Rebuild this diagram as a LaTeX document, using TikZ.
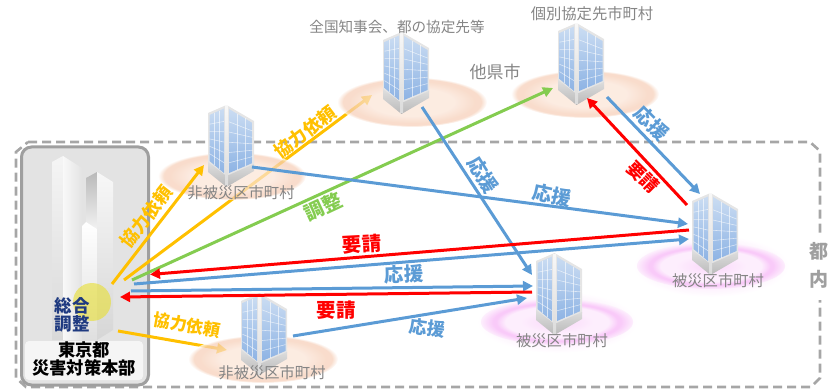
\documentclass[tikz,border=0pt]{standalone}
\usepackage{fontspec}
\setmainfont{Noto Sans CJK JP}
\usetikzlibrary{arrows.meta,calc}
\definecolor{cOrange}{HTML}{FFC000}
\definecolor{cBlue}{HTML}{5B9BD5}
\definecolor{cGreen}{HTML}{84CC50}
\definecolor{cRed}{HTML}{FF0000}
\definecolor{cGray}{HTML}{858585}
\definecolor{cNavy}{HTML}{1F3A80}
\definecolor{pa}{HTML}{FBE4D6}
\definecolor{pb}{HTML}{F6CFB8}
\definecolor{ga}{HTML}{FAD6FA}
\definecolor{gb}{HTML}{F9CAF9}
\definecolor{gc}{HTML}{FDEEFD}
\definecolor{HTMLa}{HTML}{CADCF2}
\definecolor{HTMLb}{HTML}{8DB3E4}
\pgfdeclareradialshading{peachell}{\pgfpoint{0bp}{0bp}}{color(0bp)=(pa);color(14bp)=(pa);color(21bp)=(pb);color(23bp)=(pb);color(25bp)=(white);color(50bp)=(white)}
\pgfdeclareradialshading{pinkell}{\pgfpoint{0bp}{0bp}}{color(0bp)=(ga);color(12bp)=(gc);color(17bp)=(gc);color(20bp)=(gb);color(21bp)=(gb);color(25bp)=(gc);color(50bp)=(gc)}
\pgfdeclareradialshading{pinkglow}{\pgfpoint{0bp}{0bp}}{color(0bp)=(gc);color(16bp)=(gc);color(25bp)=(white);color(50bp)=(white)}
\tikzset{
  x=1pt,y=-1pt,
  conn/.style={line width=3pt,-{Triangle[length=10pt,width=10pt]}},
  orangeconn/.style={conn,draw=cOrange},
  blueconn/.style={conn,draw=cBlue},
  greenconn/.style={conn,draw=cGreen},
  redconn/.style={conn,draw=cRed},
  lab/.style={font=\bfseries\fontsize{18}{18}\selectfont,inner sep=0pt},
  labbig/.style={font=\bfseries\fontsize{19.5}{20}\selectfont,inner sep=0pt},
  graytext/.style={font=\fontsize{15.3}{16}\selectfont,text=cGray,inner sep=0pt},
  bldgbox/.style={inner sep=0pt,minimum width=46pt,minimum height=82pt},
  grid/.style={white,line width=.6pt,opacity=.6},
}
\newcommand{\bldg}[3]{%
  \node[bldgbox] (#1) at (#2+23,#3+41) {};
  \begin{scope}[shift={(#2,#3)}]
    \fill[gray!20] (0,8)--(18.5,0)--(46,16)--(46,60)--(18.5,74)--(0,60)--cycle;
    \shade[top color=gray!25,bottom color=gray!55] (0,57)--(18.5,71)--(46,59)--(46,66)--(18.5,82)--(0,67)--cycle;
    \shade[top color=gray!6,bottom color=gray!28] (17,1)--(20,1)--(20,81)--(17,81)--cycle;
    \shade[top color=HTMLa,bottom color=HTMLb] (1.5,10)--(16,3.5)--(16,68)--(1.5,56)--cycle;
    \shade[top color=HTMLa,bottom color=HTMLb] (21,4)--(44.5,18)--(44.5,58)--(21,68)--cycle;
    \foreach \t in {.2,.36,.52,.68,.84}{
      \draw[grid] (1.5,10+46*\t)--(16,3.5+64.5*\t);
      \draw[grid] (21,4+64*\t)--(44.5,18+40*\t);
    }
    \foreach \x/\a/\b in {6.3/7.8/60,11.2/5.6/64}{\draw[grid] (\x,\a)--(\x,\b);}
    \foreach \x/\a/\b in {29/8.8/64.6,37/13.5/61.2}{\draw[grid] (\x,\a)--(\x,\b);}
  \end{scope}}
\begin{document}
\begin{tikzpicture}
\useasboundingbox (0,0) rectangle (832,390);
% outer dashed frame
\draw[draw=gray!70,line width=2.6pt,dash pattern=on 9pt off 5pt]
  (28,142)--(810,142)--(820,151)--(820,378)--(811,387)--(26,387)--(16,378)--(16,152)--cycle;
\fill[white] (805,233) rectangle (832,300);
\node[font=\bfseries\fontsize{19}{19}\selectfont,text=gray!75,inner sep=0pt] (tonai1) at (819,251) {都};
\node[font=\bfseries\fontsize{19}{19}\selectfont,text=gray!75,inner sep=0pt] (tonai2) at (819,279) {内};
% HQ panel
\node[draw=gray!75,line width=3pt,rounded corners=10pt,fill=gray!22,minimum width=127pt,minimum height=238pt,inner sep=0pt] (hq) at (85,266) {};
\shade[top color=gray!8,bottom color=gray!30] (52,162)--(63,156)--(63,340)--(52,340)--cycle;
\shade[left color=gray!5,right color=gray!22] (63,156)--(82,168)--(82,340)--(63,340)--cycle;
\shade[top color=gray!55,bottom color=gray!10] (86,178)--(97,172)--(97,229)--(86,222)--cycle;
\shade[top color=white,bottom color=gray!25] (82,226)--(86,222)--(97,229)--(97,340)--(82,340)--cycle;
\shade[top color=gray!6,bottom color=gray!32] (97,172)--(113,182)--(113,330)--(97,340)--cycle;
\fill[yellow!80!gray,opacity=.6] (92,302) circle (19);
\node[fill=gray!8,rounded corners=4pt,minimum width=118pt,minimum height=39pt,inner sep=0pt] (hqlabel) at (84,360.5) {};
\node[lab,text=black,align=center,font=\bfseries\fontsize{17.3}{18.5}\selectfont] (hqtext) at (84,359) {東京都\\災害対策本部};
\node[lab,text=cNavy,align=center,font=\bfseries\fontsize{17.5}{17.5}\selectfont] (sogo) at (72,315) {総合\\調整};
% coordinates of free connector ends
\coordinate (oA1) at (112,284); \coordinate (oA2) at (204,165);
\coordinate (oB1) at (124,280); \coordinate (oB2) at (372,95);
\coordinate (oC1) at (118,331); \coordinate (oC2) at (227,350);
\coordinate (g1) at (132,280); \coordinate (g2) at (553,88);
\coordinate (rA1) at (689,230); \coordinate (rA2) at (150,274.5);
\coordinate (rB1) at (532,292); \coordinate (rB2) at (120,297);
\coordinate (rC1) at (687,205); \coordinate (rC2) at (587,98);
\coordinate (bA1) at (134,284); \coordinate (bA2) at (689,239);
\coordinate (bB1) at (131,291); \coordinate (bB2) at (533,286);
\coordinate (bC1) at (293,336); \coordinate (bC2) at (527,298);
\coordinate (bD1) at (252,167); \coordinate (bD2) at (688,224);
\coordinate (bE1) at (422,107); \coordinate (bE2) at (532,275);
\coordinate (bF1) at (607,97); \coordinate (bF2) at (700,194);
% arrows seen through the ellipses
\draw[orangeconn] (oB1)--(oB2);
\draw[orangeconn] (oC1)--(oC2);
% ellipses
\shade[shading=peachell,opacity=.72] (412,102) ellipse (75 and 25);
\shade[shading=peachell,opacity=.72] (585,94) ellipse (74 and 24);
\shade[shading=peachell,opacity=.72] (232,176) ellipse (74 and 24);
\shade[shading=peachell,opacity=.72] (263,359) ellipse (75 and 24);
\shade[shading=pinkglow] (711,266) ellipse (78 and 31);
\shade[shading=pinkell] (711,266) ellipse (74 and 23);
\shade[shading=pinkglow] (557,322) ellipse (80 and 31);
\shade[shading=pinkell] (557,322) ellipse (76 and 23);
% buildings
\bldg{bZenkoku}{383}{32}
\bldg{bKobetsu}{558}{23}
\bldg{bHiU}{208}{105}
\bldg{bHiL}{241}{293}
\bldg{bSaiR}{692}{193}
\bldg{bSaiL}{536}{253}
% building labels
\node[graytext,font=\fontsize{14.6}{15}\selectfont] (tZ) at (397,27) {全国知事会、都の協定先等};
\node[graytext] (tK) at (592,14) {個別協定先市町村};
\node[graytext,font=\fontsize{17}{17}\selectfont] (tT) at (495,72) {他県市};
\node[graytext] (tHU) at (241,193) {非被災区市町村};
\node[graytext] (tHL) at (272,373) {非被災区市町村};
\node[graytext] (tSR) at (718,281) {被災区市町村};
\node[graytext] (tSL) at (562,341) {被災区市町村};
% connectors
\draw[orangeconn] (oA1)--(oA2);
\draw[greenconn] (g1)--(g2);
\draw[blueconn] (bD1)--(bD2);
\draw[blueconn] (bE1)--(bE2);
\draw[blueconn] (bF1)--(bF2);
\draw[blueconn] (bC1)--(bC2);
\draw[redconn] (rA1)--(rA2);
\draw[blueconn] (bA1)--(bA2);
\draw[blueconn] (bB1)--(bB2);
\draw[redconn] (rB1)--(rB2);
\draw[redconn] (rC1)--(rC2);
% connector labels
\node[lab,text=cOrange,rotate=52] (l1) at (146,217) {協力依頼};
\node[lab,text=cOrange,rotate=37] (l2) at (305,132) {協力依頼};
\node[lab,text=cOrange,rotate=-10,font=\bfseries\fontsize{17}{17}\selectfont] (l3) at (187,325) {協力依頼};
\node[labbig,text=cGreen,rotate=25] (l4) at (323,207) {調整};
\node[labbig,text=cRed,rotate=3] (l5) at (362,244) {要請};
\node[labbig,text=cRed] (l6) at (336,310) {要請};
\node[labbig,text=cBlue,rotate=2] (l7) at (404,274) {応援};
\node[lab,text=cBlue,rotate=-8] (l8) at (427,328) {応援};
\node[labbig,text=cBlue,rotate=-12] (l9) at (552,195) {応援};
\node[labbig,text=cBlue,rotate=-58] (l10) at (483,175) {応援};
\node[labbig,text=cBlue,rotate=-45] (l11) at (652,123) {応援};
\node[lab,text=cRed,rotate=-45] (l12) at (643,177) {要請};
\end{tikzpicture}
\end{document}
